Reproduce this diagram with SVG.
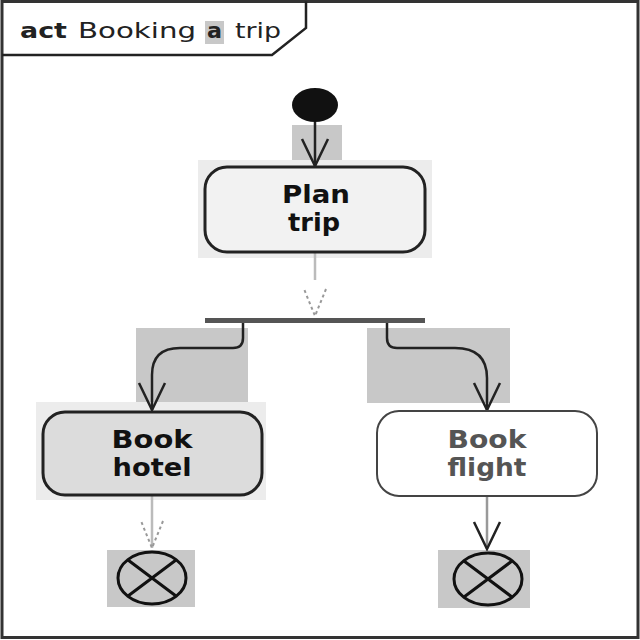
<svg xmlns="http://www.w3.org/2000/svg" width="640" height="640" viewBox="0 0 640 640">
<style>
.hl{fill:#c8c8c8}
.hl2{fill:#ececec}
.act{stroke:#222;stroke-width:3}
.lbl{font-family:"DejaVu Sans",Verdana,sans-serif;font-size:25px;font-weight:bold;text-anchor:middle;fill:#111}
.ttl{font-family:"DejaVu Sans",Verdana,sans-serif;font-size:21px;fill:#222}
.flow{fill:none;stroke:#222;stroke-width:2.5}
.flowl{fill:none;stroke:#bbb;stroke-width:2.5}
.fin{fill:none;stroke:#111;stroke-width:3}
</style>
<defs>
<marker id="ah" viewBox="0 0 30 30" refX="28" refY="15" markerWidth="30" markerHeight="30" markerUnits="userSpaceOnUse" orient="auto">
<path d="M1 2 L28 15 L1 28" fill="none" stroke="#222" stroke-width="2.5"/>
</marker>
<marker id="ahl" viewBox="0 0 30 30" refX="28" refY="15" markerWidth="30" markerHeight="30" markerUnits="userSpaceOnUse" orient="auto">
<path d="M1 4 L28 15 L1 26" fill="none" stroke="#999" stroke-width="2" stroke-dasharray="3 3"/>
</marker>
</defs>
<rect x="0" y="0" width="640" height="640" fill="#fff"/>
<g id="frame">
<rect x="2" y="1.5" width="636" height="636" fill="none" stroke="#333" stroke-width="3"/>
<path d="M2 55 H272 L306 28 V1.5" fill="none" stroke="#222" stroke-width="2.5"/>
<rect x="205" y="21" width="19" height="23" class="hl"/>
<text class="ttl" x="20" y="38" font-weight="bold" textLength="47" lengthAdjust="spacingAndGlyphs">act</text>
<text class="ttl" x="78" y="38" textLength="118" lengthAdjust="spacingAndGlyphs">Booking</text>
<text class="ttl" x="207" y="38" font-weight="bold" textLength="15" lengthAdjust="spacingAndGlyphs">a</text>
<text class="ttl" x="235" y="38" textLength="46" lengthAdjust="spacingAndGlyphs">trip</text>
</g>
<g id="highlights">
<rect x="292" y="125" width="50" height="35" class="hl"/>
<rect x="198" y="160" width="234" height="98" class="hl2"/>
<rect x="136" y="328" width="112" height="82" class="hl"/>
<rect x="367" y="328" width="143" height="75" class="hl"/>
<rect x="36" y="402" width="230" height="98" class="hl2"/>
<rect x="107" y="550" width="88" height="57" class="hl"/>
<rect x="438" y="550" width="92" height="58" class="hl"/>
</g>
<g id="connectors">
<path class="flow" d="M315 122 V166" marker-end="url(#ah)"/>
<path class="flowl" d="M315 253 V280"/>
<path d="M315 288 V316" fill="none" stroke="none" marker-end="url(#ahl)"/>
<path class="flow" d="M243 322 V338 Q243 348 233 348 H180 Q152 348 152 375 V410" marker-end="url(#ah)"/>
<path class="flow" d="M387 322 V338 Q387 348 397 348 H455 Q487 348 487 378 V410" marker-end="url(#ah)"/>
<path class="flowl" d="M152 496 V548" marker-end="url(#ahl)"/>
<path d="M487 497 V549" fill="none" stroke="#999" stroke-width="2.5" marker-end="url(#ah)"/>
</g>
<g id="initial">
<ellipse cx="315" cy="105" rx="23" ry="17" fill="#111"/>
</g>
<g id="plan">
<rect x="205" y="167" width="220" height="85" rx="22" fill="#f2f2f2" class="act"/>
<text class="lbl" x="316" y="203" textLength="68" lengthAdjust="spacingAndGlyphs">Plan</text>
<text class="lbl" x="314" y="231" textLength="52" lengthAdjust="spacingAndGlyphs">trip</text>
</g>
<g id="fork">
<rect x="205" y="318" width="220" height="5" fill="#555"/>
</g>
<g id="hotel">
<rect x="43" y="412" width="219" height="83" rx="22" fill="#dcdcdc" class="act"/>
<text class="lbl" x="152" y="448" textLength="81" lengthAdjust="spacingAndGlyphs">Book</text>
<text class="lbl" x="152" y="476" textLength="79" lengthAdjust="spacingAndGlyphs">hotel</text>
</g>
<g id="flight">
<rect x="377" y="411" width="220" height="85" rx="22" fill="#fff" stroke="#444" stroke-width="2"/>
<text class="lbl" x="487" y="448" style="fill:#555" textLength="79" lengthAdjust="spacingAndGlyphs">Book</text>
<text class="lbl" x="487" y="476" style="fill:#555" textLength="79" lengthAdjust="spacingAndGlyphs">flight</text>
</g>
<g id="final1">
<ellipse cx="152" cy="578" rx="34" ry="26" class="fin"/>
<path class="fin" d="M128 560 L176 596 M176 560 L128 596"/>
</g>
<g id="final2">
<ellipse cx="488" cy="579" rx="34" ry="26" class="fin"/>
<path class="fin" d="M464 561 L512 597 M512 561 L464 597"/>
</g>
</svg>
